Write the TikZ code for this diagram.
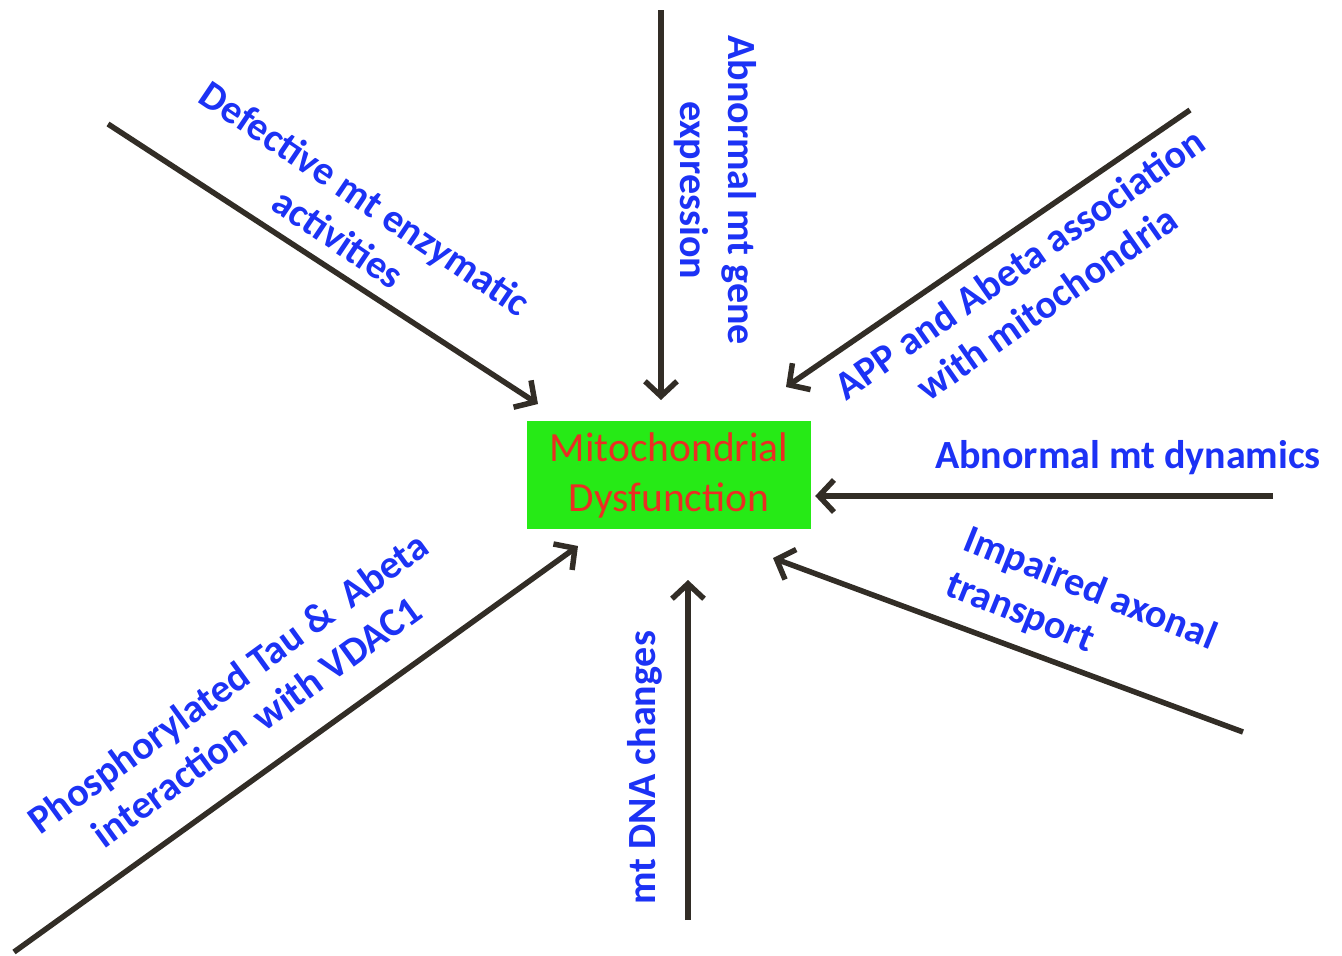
\documentclass[tikz,border=0pt]{standalone}
\usepackage{fontspec}
\setmainfont{Carlito}
\usetikzlibrary{arrows.meta}
\definecolor{causeblue}{RGB}{28,50,245}
\definecolor{dysred}{RGB}{235,45,35}
\definecolor{boxgreen}{RGB}{38,234,22}
\definecolor{arrowgray}{RGB}{50,45,38}

\begin{document}
\begin{tikzpicture}[x=1pt,y=-1pt]
    \tikzstyle{box} = [
      rectangle,
      fill=boxgreen,
      text=dysred,
      align=center,
      minimum width=284pt,
      minimum height=108pt,
      font=\fontsize{41.5}{50}\selectfont,
    ]
    \tikzstyle{cause} = [
      text=causeblue,
      align=center,
      inner sep=0pt,
      font=\fontsize{40}{48}\selectfont\bfseries,
    ]
    \tikzstyle{arrow} = [
      line width=5.5pt,
      draw=arrowgray,
      -{Straight Barb[length=15pt,width=32pt]},
    ]

    \useasboundingbox (0,0) rectangle (1342,956);

    \node[box] (dys) at (669,475) {Mitochondrial\\Dysfunction};

    % free ends and tips of the arrows
    \coordinate (enzS) at (108,124);  \coordinate (enzT) at (538,404);
    \coordinate (geneS) at (661,10);  \coordinate (geneT) at (661,400);
    \coordinate (appS) at (1190,110); \coordinate (appT) at (786,387);
    \coordinate (dynS) at (1273,496);
    \coordinate (axS) at (1243,732);  \coordinate (axT) at (773,558);
    \coordinate (dnaS) at (688,920);  \coordinate (dnaT) at (688,580);
    \coordinate (tauS) at (14,952);   \coordinate (tauT) at (578,546);

    \node[cause,rotate=-34] (enz) at (352,218) {Defective mt enzymatic\\activities};
    \node[cause,rotate=-90] (gene) at (715,190) {Abnormal mt gene\\expression};
    \node[cause,rotate=35] (app) at (1033,283) {APP and Abeta association\\with mitochondria};
    \node[cause] (dyn) at (1128,458) {Abnormal mt dynamics};
    \node[cause,rotate=-22,align=left] (ax) at (1081,612) {Impaired axonal\\transport};
    \node[cause,rotate=90] (dna) at (645,768) {mt DNA changes};
    \node[cause,rotate=36] (tau) at (242,702) {Phosphorylated Tau \&~ Abeta\\interaction~ with VDAC1};

    \draw[arrow] (enzS)--(enzT);
    \draw[arrow] (geneS)--(geneT);
    \draw[arrow] (appS)--(appT);
    \draw[arrow] (dynS)--([xshift=4pt] dynS -| dys.east);
    \draw[arrow] (axS)--(axT);
    \draw[arrow] (dnaS)--(dnaT);
    \draw[arrow] (tauS)--(tauT);
\end{tikzpicture}
\end{document}
